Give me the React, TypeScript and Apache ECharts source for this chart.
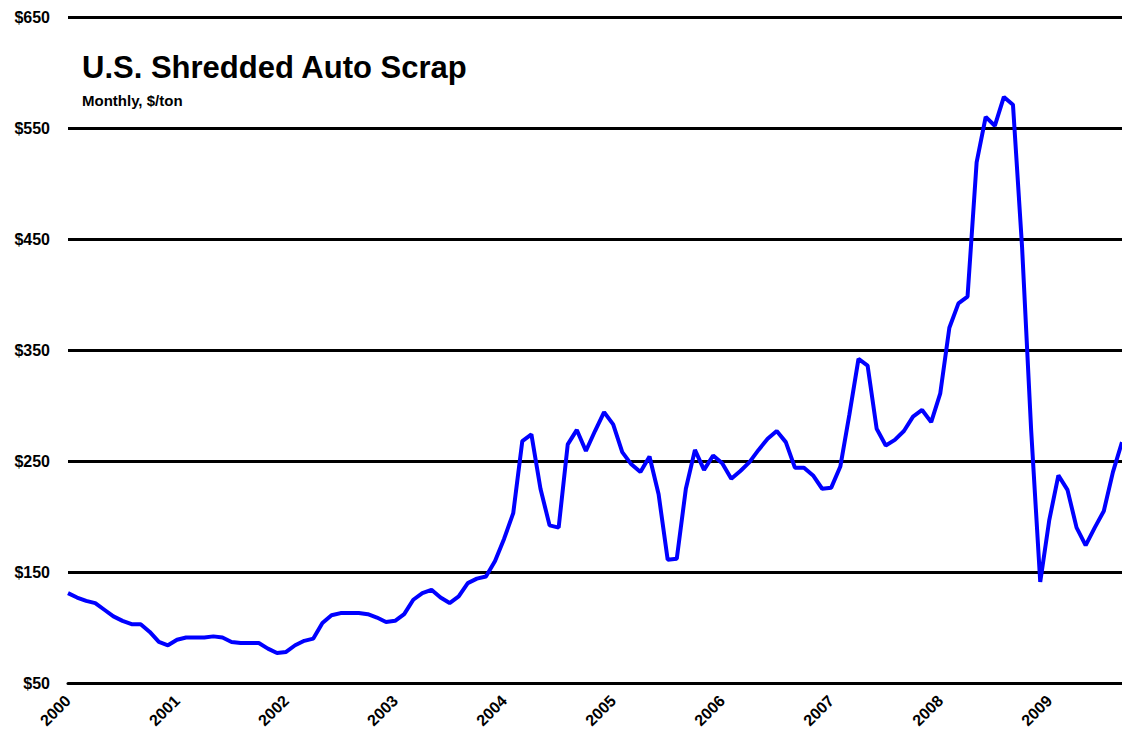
import React, { useEffect, useRef } from "react";
import * as echarts from "echarts";

const years = ["2000", "2001", "2002", "2003", "2004", "2005", "2006", "2007", "2008", "2009"];
const monthsPerYear = 12;
const lastYearMonths = 9;

const yTicks = [50, 150, 250, 350, 450, 550, 650];

// Monthly price, $/ton, Jan 2000 – Sep 2009
const prices2000 = [131, 127, 124, 122, 116, 110, 106, 103, 103, 96, 87, 84];
const prices2001 = [89, 91, 91, 91, 92, 91, 87, 86, 86, 86, 81, 77];
const prices2002 = [78, 84, 88, 90, 104, 111, 113, 113, 113, 112, 109, 105];
const prices2003 = [106, 112, 125, 131, 134, 127, 122, 128, 140, 144, 146, 160];
const prices2004 = [180, 203, 268, 274, 225, 192, 190, 265, 278, 259, 277, 294];
const prices2005 = [283, 258, 247, 240, 254, 220, 161, 162, 225, 260, 242, 255];
const prices2006 = [248, 234, 241, 249, 260, 270, 277, 267, 244, 244, 237, 225];
const prices2007 = [226, 245, 292, 342, 336, 279, 264, 269, 277, 290, 296, 285];
const prices2008 = [311, 370, 392, 398, 519, 560, 552, 578, 571, 443, 278, 141];
const prices2009 = [197, 237, 224, 190, 174, 190, 205, 240, 267];

const allPrices = [
  ...prices2000, ...prices2001, ...prices2002, ...prices2003, ...prices2004,
  ...prices2005, ...prices2006, ...prices2007, ...prices2008, ...prices2009,
];

const categories: string[] = [];
years.forEach((y, yi) => {
  const n = yi === years.length - 1 ? lastYearMonths : monthsPerYear;
  for (let m = 0; m < n; m++) categories.push(m === 0 ? y : `${y}-${m + 1}`);
});

export default function App() {
  const ref = useRef<HTMLDivElement>(null);
  useEffect(() => {
    if (!ref.current) return;
    const chart = echarts.init(ref.current, null, { renderer: "svg" });
    const font = "'Liberation Sans', Arial, sans-serif";
    chart.setOption({
      animation: false,
      backgroundColor: "#ffffff",
      title: {
        text: "U.S. Shredded Auto Scrap",
        subtext: "Monthly, $/ton",
        left: 77,
        top: 47,
        itemGap: 10,
        textStyle: { fontFamily: font, fontWeight: "bold", fontSize: 31, color: "#000" },
        subtextStyle: { fontFamily: font, fontWeight: "bold", fontSize: 15, color: "#000" },
      },
      grid: { left: 68, right: 0, top: 17, bottom: 70, containLabel: false },
      xAxis: {
        type: "category",
        data: categories,
        boundaryGap: false,
        axisLine: { show: true, lineStyle: { color: "#000", width: 3 } },
        axisTick: { show: false },
        axisLabel: {
          interval: 11,
          rotate: 45,
          margin: 15,
          fontFamily: font,
          fontWeight: "bold",
          fontSize: 16,
          color: "#000",
          formatter: (v: string) => v.slice(0, 4),
        },
        splitLine: { show: false },
      },
      yAxis: {
        type: "value",
        min: yTicks[0],
        max: yTicks[yTicks.length - 1],
        interval: 100,
        axisLine: { show: false },
        axisTick: { show: false },
        axisLabel: {
          margin: 18,
          fontFamily: font,
          fontWeight: "bold",
          fontSize: 16,
          color: "#000",
          formatter: (v: number) => "$" + v,
        },
        splitLine: { show: true, lineStyle: { color: "#000", width: 3 } },
      },
      series: [
        {
          type: "line",
          data: allPrices,
          showSymbol: false,
          symbol: "none",
          lineStyle: { color: "#0000ff", width: 4 },
          itemStyle: { color: "#0000ff" },
        },
      ],
    });
    return () => chart.dispose();
  }, []);
  return (
    <div
      ref={ref}
      style={{ position: "fixed", left: 0, top: 0, width: 1122, height: 753 }}
    />
  );
}
